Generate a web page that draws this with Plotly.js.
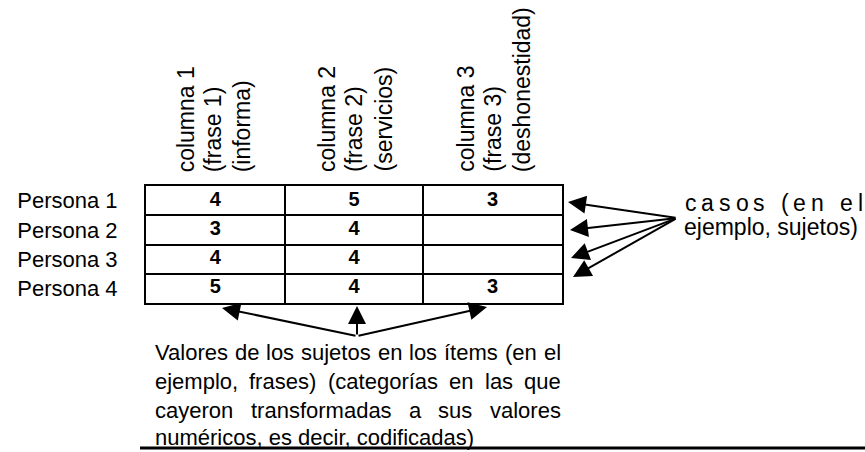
<!DOCTYPE html>
<html><head><meta charset="utf-8">
<script src="https://cdn.plot.ly/plotly-3.0.1.min.js"></script>
<style>html,body{margin:0;padding:0;background:#fff}</style>
</head><body>
<div id="chart" style="width:865px;height:452px"></div>
<script>
// ---- data ----
const columns = ["columna 1", "columna 2", "columna 3"];
const headerLines = [
  ["columna 1", "(frase 1)", "(informa)"],
  ["columna 2", "(frase 2)", "(servicios)"],
  ["columna 3", "(frase 3)", "(deshonestidad)"]
];
const personas = ["Persona 1", "Persona 2", "Persona 3", "Persona 4"];
const col1 = [4, 3, 4, 5];
const col2 = [5, 4, 4, 4];
const col3 = [3, null, null, 3];
const casosLines = ["casos (en el", "ejemplo, sujetos)"];
const valoresLines = [
  "Valores de los sujetos en los ítems (en el",
  "ejemplo, frases) (categorías en las que",
  "cayeron transformadas a sus valores",
  "numéricos, es decir, codificadas)"
];

// ---- layout geometry ----
const W = 865, H = 452;
const L = 146, Rx = 562, T = 186, Bt = 303;
const PW = Rx - L, PH = Bt - T;
const xp = px => (px - L) / PW;
const yp = py => (Bt - py) / PH;
const FAM = "Liberation Sans, Arial, sans-serif";
const CFAM = "'Liberation Sans', Arial, sans-serif";

const values = [col1, col2, col3];
const xs = [], ys = [], ts = [];
columns.forEach((c, i) => personas.forEach((p, j) => {
  xs.push(c); ys.push(p);
  ts.push(values[i][j] === null ? "" : String(values[i][j]));
}));

const trace = {
  type: "scatter", mode: "text", x: xs, y: ys, text: ts,
  textfont: {family: FAM, size: 20, color: "#000", weight: "bold"},
  hoverinfo: "skip", showlegend: false, cliponaxis: false
};

const ctx = document.createElement("canvas").getContext("2d");
function measure(s, size) { ctx.font = size + "px " + CFAM; return ctx.measureText(s).width; }

const annotations = [];
function textAnn(str, leftPx, cy, size) {
  annotations.push({xref: "paper", yref: "paper", x: xp(leftPx), y: yp(cy),
    xanchor: "left", yanchor: "middle", text: str, showarrow: false, borderpad: 0,
    font: {family: FAM, size: size, color: "#000"}});
}
function placeLine(str, leftPx, rightPx, cy, size, mode) {
  if (mode === "left") { textAnn(str, leftPx, cy, size); return; }
  const units = mode === "chars" ? Array.from(str) : str.split(" ");
  const widths = units.map(u => measure(u, size));
  const total = widths.reduce((a, b) => a + b, 0);
  const gap = (rightPx - leftPx - total) / (units.length - 1);
  let x = leftPx;
  units.forEach((u, k) => {
    if (u.trim() !== "") textAnn(u, x, cy, size);
    x += widths[k] + gap;
  });
}

// column headers (rotated)
const lineOffsets = [-27, 0, 29];
headerLines.forEach((lines, i) => lines.forEach((t, k) => {
  annotations.push({xref: "x", yref: "paper", x: columns[i], y: 1,
    xshift: lineOffsets[k] + (i === 0 ? -2 : 0), yshift: 13,
    xanchor: "center", yanchor: "bottom", textangle: -90, text: t,
    showarrow: false, borderpad: 0, font: {family: FAM, size: 23, color: "#000"}});
}));

// right side text
placeLine(casosLines[0], 684, 862, 203, 23, "chars");
placeLine(casosLines[1], 683, 862, 227, 23, "left");

// bottom text block
const vy = [352, 381, 410, 437];
valoresLines.forEach((s, k) => placeLine(s, 154, 560, vy[k], 22, k < 3 ? "words" : "left"));

// arrows
function arrow(tx, ty, sx, sy) {
  annotations.push({xref: "paper", yref: "paper", x: xp(tx), y: yp(ty),
    axref: "pixel", ayref: "pixel", ax: sx - tx, ay: sy - ty, text: "",
    showarrow: true, arrowhead: 2, arrowsize: 1.8, arrowwidth: 2,
    arrowcolor: "#000", standoff: 0, startstandoff: 0});
}
arrow(568, 202, 677, 218);
arrow(570, 230, 677, 218);
arrow(571, 258, 677, 218);
arrow(573, 277, 677, 218);
arrow(222, 308, 357, 336);
arrow(357, 306, 357, 336);
arrow(487, 307, 357, 336);

const layout = {
  width: W, height: H,
  margin: {l: L, r: W - Rx, t: T, b: H - Bt, pad: 0},
  paper_bgcolor: "#fff", plot_bgcolor: "#fff",
  showlegend: false,
  xaxis: {type: "category", categoryarray: columns, range: [-0.5, 2.5],
    tickson: "boundaries", showgrid: true, gridcolor: "#000", gridwidth: 2,
    showline: true, linecolor: "#000", linewidth: 2, mirror: true,
    showticklabels: false, ticks: "", zeroline: false, fixedrange: true},
  yaxis: {type: "category", categoryarray: personas, range: [3.5, -0.5],
    tickson: "boundaries", showgrid: true, gridcolor: "#000", gridwidth: 2,
    showline: true, linecolor: "#000", linewidth: 2, mirror: true,
    ticks: "", ticklabelstandoff: 22,
    tickfont: {family: FAM, size: 22, color: "#000"}, zeroline: false, fixedrange: true},
  shapes: [{type: "line", xref: "paper", yref: "paper",
    x0: xp(140), x1: xp(865), y0: yp(448), y1: yp(448),
    line: {color: "#000", width: 3}}],
  annotations: annotations
};

Plotly.newPlot("chart", [trace], layout, {displayModeBar: false, staticPlot: true});
</script>
</body></html>
